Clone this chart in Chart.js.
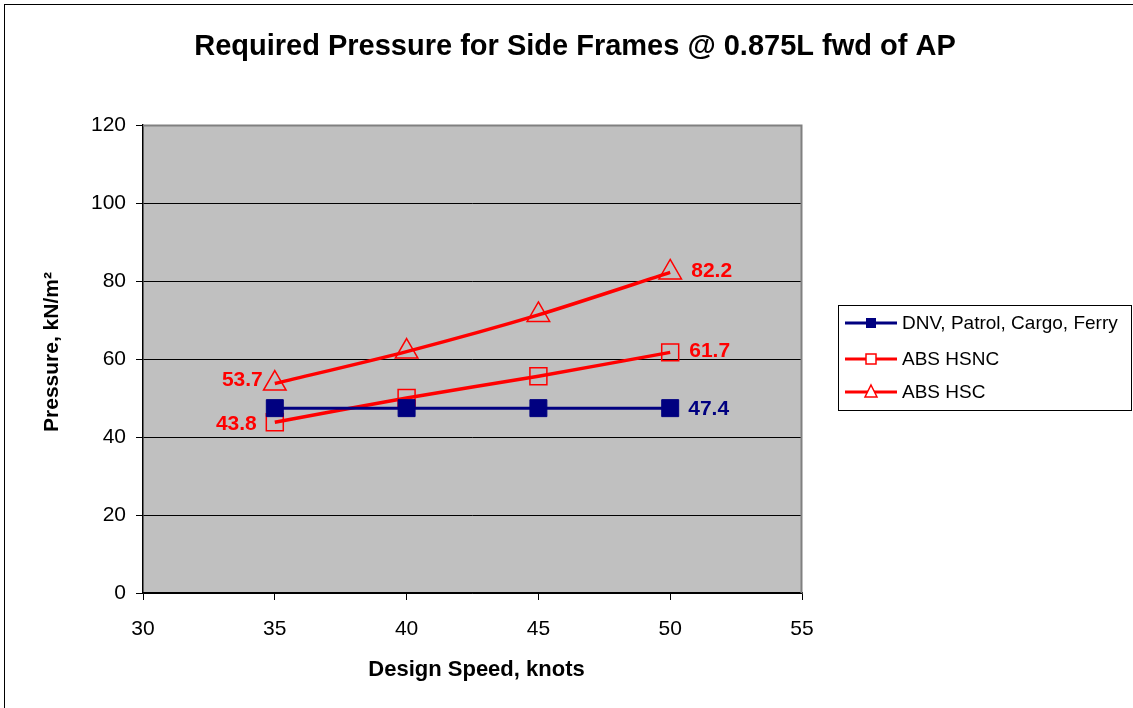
<!DOCTYPE html>
<html>
<head>
<meta charset="utf-8">
<script src="https://cdn.jsdelivr.net/npm/chart.js@4.4.1/dist/chart.umd.min.js"></script>
<style>
  html, body { margin: 0; padding: 0; background: #fff; }
  #wrap { width: 1133px; height: 708px; position: relative; }
</style>
</head>
<body>
<div id="wrap"><canvas id="c" width="1133" height="708"></canvas></div>
<script>
const speeds = [35, 40, 45, 50];
const dnvValues = [47.4, 47.4, 47.4, 47.4];
const hsncValues = [43.8, 50.0, 55.6, 61.7];
const hscValues = [53.7, 61.9, 71.3, 82.2];
const seriesNames = ['DNV, Patrol, Cargo, Ferry', 'ABS HSNC', 'ABS HSC'];
const xTicks = [30, 35, 40, 45, 50, 55];
const yTicks = [0, 20, 40, 60, 80, 100, 120];
const titleText = 'Required Pressure for Side Frames @ 0.875L fwd of AP';
const xTitle = 'Design Speed, knots';
const yTitle = 'Pressure, kN/m²';

const NAVY = '#000080', RED = '#FF0000';
const FONT = '"Liberation Sans", Arial, sans-serif';

function pts(vals) { return speeds.map((s, i) => ({ x: s, y: vals[i] })); }

const decor = {
  id: 'decor',
  beforeDraw(chart) {
    const { ctx, chartArea: a } = chart;
    ctx.save();
    ctx.fillStyle = '#fff';
    ctx.fillRect(0, 0, chart.width, chart.height);
    ctx.strokeStyle = '#000';
    ctx.lineWidth = 1;
    ctx.strokeRect(4.5, 4.5, chart.width - 4, chart.height - 4);
    ctx.fillStyle = '#C0C0C0';
    ctx.fillRect(a.left, a.top, a.right - a.left, a.bottom - a.top);
    ctx.restore();
  },
  afterDatasetsDraw(chart) {
    const { ctx, chartArea: a } = chart;
    ctx.save();
    ctx.strokeStyle = '#808080';
    ctx.lineWidth = 2;
    ctx.beginPath();
    ctx.moveTo(a.left, a.top + 0.5);
    ctx.lineTo(a.right - 0.5, a.top + 0.5);
    ctx.lineTo(a.right - 0.5, a.bottom);
    ctx.stroke();
    ctx.restore();
  },
  afterDraw(chart) {
    const { ctx, chartArea: a } = chart;
    ctx.save();
    // title
    ctx.fillStyle = '#000';
    ctx.font = 'bold 29px ' + FONT;
    ctx.textAlign = 'center';
    ctx.textBaseline = 'middle';
    ctx.fillText(titleText, 575, 47);
    // axis titles
    ctx.font = 'bold 22px ' + FONT;
    ctx.fillText(xTitle, (a.left + a.right) / 2 + 4, 670);
    ctx.save();
    ctx.translate(52, 352);
    ctx.rotate(-Math.PI / 2);
    ctx.font = 'bold 21px ' + FONT;
    ctx.fillText(yTitle, 0, 0);
    ctx.restore();

    // data labels
    ctx.font = 'bold 21px ' + FONT;
    const metaD = chart.getDatasetMeta(0).data;
    const metaN = chart.getDatasetMeta(1).data;
    const metaC = chart.getDatasetMeta(2).data;
    const last = speeds.length - 1;
    ctx.textAlign = 'left';
    ctx.fillStyle = NAVY;
    ctx.fillText(dnvValues[last].toFixed(1), metaD[last].x + 18, metaD[last].y + 1);
    ctx.fillStyle = RED;
    ctx.fillText(hsncValues[last].toFixed(1), metaN[last].x + 19, metaN[last].y - 1);
    ctx.fillText(hscValues[last].toFixed(1), metaC[last].x + 21, metaC[last].y - 1);
    ctx.textAlign = 'right';
    ctx.fillText(hscValues[0].toFixed(1), metaC[0].x - 12, metaC[0].y - 3);
    ctx.fillText(hsncValues[0].toFixed(1), metaN[0].x - 18, metaN[0].y + 2);

    // legend
    const lx = 838, ly = 305, lw = 293, lh = 105;
    ctx.fillStyle = '#fff';
    ctx.fillRect(lx, ly, lw, lh);
    ctx.strokeStyle = '#000';
    ctx.lineWidth = 1;
    ctx.strokeRect(lx + 0.5, ly + 0.5, lw, lh);
    const rows = [323, 359, 392];
    const colors = [NAVY, RED, RED];
    ctx.font = '19px ' + FONT;
    ctx.textAlign = 'left';
    ctx.textBaseline = 'middle';
    rows.forEach((y, i) => {
      ctx.strokeStyle = colors[i];
      ctx.lineWidth = 3;
      ctx.beginPath();
      ctx.moveTo(845, y);
      ctx.lineTo(897, y);
      ctx.stroke();
      const cx = 871;
      ctx.lineWidth = 1.5;
      if (i === 0) {
        ctx.fillStyle = NAVY;
        ctx.fillRect(cx - 5, y - 5, 10, 10);
      } else if (i === 1) {
        ctx.fillStyle = '#fff';
        ctx.fillRect(cx - 5, y - 5, 10, 10);
        ctx.strokeRect(cx - 5, y - 5, 10, 10);
      } else {
        ctx.fillStyle = '#fff';
        ctx.beginPath();
        ctx.moveTo(cx, y - 7);
        ctx.lineTo(cx + 6, y + 5);
        ctx.lineTo(cx - 6, y + 5);
        ctx.closePath();
        ctx.fill();
        ctx.stroke();
      }
      ctx.fillStyle = '#000';
      ctx.fillText(seriesNames[i], 902, y + 1);
    });
    ctx.restore();
  }
};

new Chart(document.getElementById('c'), {
  type: 'line',
  data: {
    datasets: [
      {
        label: seriesNames[0], data: pts(dnvValues),
        borderColor: NAVY, backgroundColor: NAVY, borderWidth: 3,
        pointStyle: 'rect', pointRadius: 12, pointBorderWidth: 1,
        pointBackgroundColor: NAVY, pointBorderColor: NAVY, tension: 0
      },
      {
        label: seriesNames[1], data: pts(hsncValues),
        borderColor: RED, backgroundColor: 'transparent', borderWidth: 3.5,
        pointStyle: 'rect', pointRadius: 12, pointBorderWidth: 1.5,
        pointBackgroundColor: 'transparent', pointBorderColor: RED, tension: 0.25
      },
      {
        label: seriesNames[2], data: pts(hscValues),
        borderColor: RED, backgroundColor: 'transparent', borderWidth: 3.5,
        pointStyle: 'triangle', pointRadius: 13, pointBorderWidth: 1.5,
        pointBackgroundColor: 'transparent', pointBorderColor: RED, tension: 0.25
      }
    ]
  },
  options: {
    responsive: false,
    animation: false,
    devicePixelRatio: 1,
    layout: { padding: { left: 0, right: 331, top: 125, bottom: 0 } },
    plugins: { legend: { display: false }, title: { display: false }, tooltip: { enabled: false } },
    scales: {
      x: {
        type: 'linear', min: 30, max: 55,
        afterFit(s) { s.height = 115; },
        afterBuildTicks(s) { s.ticks = xTicks.map(v => ({ value: v })); },
        grid: { drawOnChartArea: false, drawTicks: true, tickLength: 7, color: '#000', lineWidth: 1 },
        border: { display: true, color: '#000', width: 1.5 },
        ticks: { color: '#000', font: { family: FONT, size: 21 }, padding: 17, maxRotation: 0, autoSkip: false }
      },
      y: {
        type: 'linear', min: 0, max: 120,
        afterFit(s) { s.width = 143; },
        afterBuildTicks(s) { s.ticks = yTicks.map(v => ({ value: v })); },
        grid: { drawOnChartArea: true, drawTicks: true, tickLength: 7, color: '#000', lineWidth: 1 },
        border: { display: true, color: '#000', width: 1.5 },
        ticks: { color: '#000', font: { family: FONT, size: 21 }, padding: 10, autoSkip: false }
      }
    }
  },
  plugins: [decor]
});
</script>
</body>
</html>
